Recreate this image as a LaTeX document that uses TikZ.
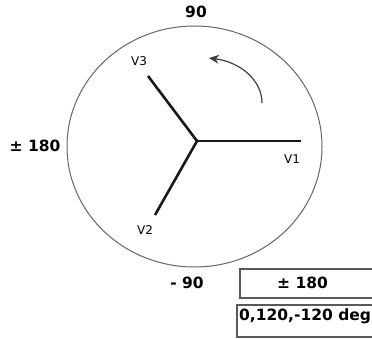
\documentclass[tikz,border=0pt]{standalone}
\usepackage{fontspec}
\setmainfont{DejaVu Sans}
\usetikzlibrary{arrows.meta}
\begin{document}
\begin{tikzpicture}[x=1pt,y=-1pt,
  big/.style={font=\fontsize{15.5}{16}\selectfont\bfseries, inner sep=0pt},
  vlab/.style={font=\fontsize{12}{13}\selectfont, inner sep=0pt, text=black},
  phasor/.style={line width=2.6pt, black!90},
  boxline/.style={draw=black!65, line width=1.2pt}]
\useasboundingbox (0,0) rectangle (372,339);
\clip (0,0) rectangle (372,339);
\fill[white] (0,0) rectangle (372,339);
% circle
\draw[black!60, line width=1pt] (194.5,146.5) ellipse [x radius=127.5, y radius=120.5];
% phasors
\coordinate (c) at (197,141);
\coordinate (v1) at (301,141);
\coordinate (v3) at (148,76);
\coordinate (v2) at (155,215);
\draw[phasor] (c) -- (v1);
\draw[phasor] (c) -- (v3);
\draw[phasor] (c) -- (v2);
% rotation arrow
\coordinate (as) at (262,103);
\coordinate (ae) at (209,58);
\draw[black!75, line width=1.2pt, -{Stealth[length=10pt,width=9pt]}] (as) .. controls (262,80) and (240,62) .. (ae);
% labels
\node[big] (n90) at (196,12) {90};
\node[big] (nm90) at (187,283) {-\,\,90};
\node[big] (n180) at (35,146) {± 180};
\node[vlab] (lv3) at (139,61) {V3};
\node[vlab] (lv1) at (292,159) {V1};
\node[vlab] (lv2) at (145,230) {V2};
% boxes
\draw[boxline] (240,269) rectangle (400,298);
\node[big] (b1) at (302.5,283) {± 180};
\draw[boxline] (237,305) rectangle (400,337);
\node[big, anchor=west] (b2) at (239,316) {0,120,-120 deg};
\end{tikzpicture}
\end{document}
